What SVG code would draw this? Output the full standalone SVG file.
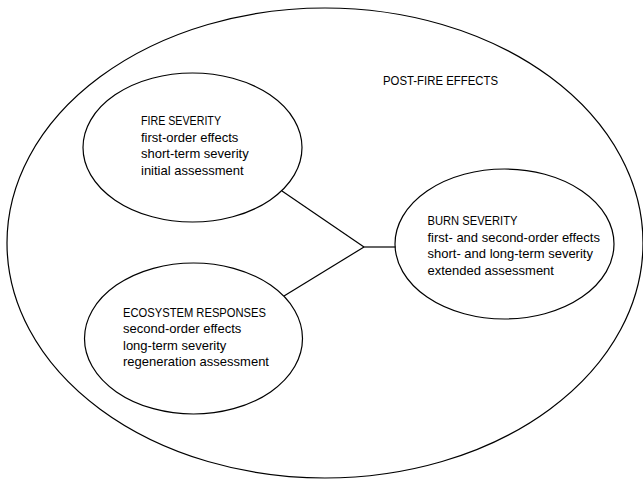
<svg xmlns="http://www.w3.org/2000/svg" width="643" height="479" viewBox="0 0 643 479">
<style>
.shape{fill:none;stroke:#000;stroke-width:1.2}
.conn{fill:none;stroke:#000;stroke-width:1.2}
text{font-family:"Liberation Sans",Arial,sans-serif;font-size:13px;fill:#000}
</style>
<rect width="643" height="479" fill="#fff"/>
<g id="post-fire-effects">
<ellipse class="shape" cx="325" cy="243" rx="318" ry="235"/>
<text x="383" y="85" textLength="115" lengthAdjust="spacingAndGlyphs">POST-FIRE EFFECTS</text>
</g>
<g id="connectors">
<line class="conn" x1="282" y1="191" x2="364" y2="247"/>
<line class="conn" x1="284" y1="296" x2="364" y2="247"/>
<line class="conn" x1="364" y1="247" x2="395.5" y2="247"/>
</g>
<g id="fire-severity">
<ellipse class="shape" cx="192.5" cy="147.5" rx="109.5" ry="74.5"/>
<text x="141" y="125" textLength="80" lengthAdjust="spacingAndGlyphs">FIRE SEVERITY</text>
<text x="141" y="141.7">first-order effects</text>
<text x="141" y="158.4">short-term severity</text>
<text x="141" y="175">initial assessment</text>
</g>
<g id="ecosystem-responses">
<ellipse class="shape" cx="193.5" cy="338.5" rx="109" ry="75.5"/>
<text x="123" y="316.7" textLength="143" lengthAdjust="spacingAndGlyphs">ECOSYSTEM RESPONSES</text>
<text x="123" y="333.1">second-order effects</text>
<text x="123" y="349.5">long-term severity</text>
<text x="123" y="365.9">regeneration assessment</text>
</g>
<g id="burn-severity">
<ellipse class="shape" cx="504.5" cy="244" rx="109.5" ry="75"/>
<text x="427.5" y="225" textLength="90" lengthAdjust="spacingAndGlyphs">BURN SEVERITY</text>
<text x="427.5" y="241.7">first- and second-order effects</text>
<text x="427.5" y="258.4">short- and long-term severity</text>
<text x="427.5" y="275">extended assessment</text>
</g>
</svg>
